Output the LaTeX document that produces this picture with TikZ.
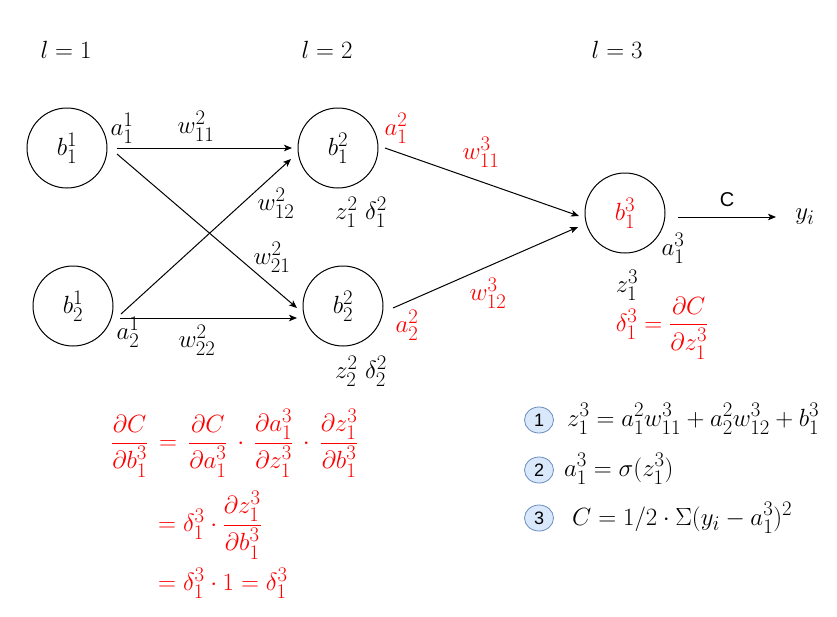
\documentclass[tikz,border=0pt]{standalone}
\usepackage{amsmath}
\usepackage{fontspec}
\newfontfamily\helv{Liberation Sans}
\usetikzlibrary{arrows.meta,shapes.geometric}
\definecolor{myred}{HTML}{FF0000}
\definecolor{numfill}{HTML}{DAE8FC}
\definecolor{numdraw}{HTML}{6C8EBF}
\tikzset{
  base/.style={font=\fontsize{24.88}{28}\selectfont, inner sep=0pt},
  neuron/.style={base, circle, draw, line width=1pt, minimum size=80pt},
  lbl/.style={base},
  rlbl/.style={base, text=myred},
  conn/.style={line width=1pt, -{Stealth[length=8pt,width=6.5pt,inset=2pt]}},
  numc/.style={ellipse, draw=numdraw, fill=numfill, line width=0.8pt, minimum width=29pt, minimum height=26pt, inner sep=0pt, font=\fontsize{18}{20}\selectfont\helv},
}
\begin{document}
\begin{tikzpicture}[x=1pt,y=-1pt]
\useasboundingbox (0,0) rectangle (837,616);
% layer labels
\node[lbl] (l1) at (66,50) {$l=1$};
\node[lbl] (l2) at (327,50) {$l=2$};
\node[lbl] (l3) at (617,50) {$l=3$};
% neurons
\node[neuron] (b11) at (67,148) {$b^1_1$};
\node[neuron] (b21) at (73,306) {$b^1_2$};
\node[neuron] (b12) at (338,148) {$b^2_1$};
\node[neuron] (b22) at (343,306) {$b^2_2$};
\node[neuron, text=myred] (b13) at (625,213) {$b^3_1$};
% connector end points
\coordinate (s11a) at (117,148);
\coordinate (s11b) at (117,154);
\coordinate (s21a) at (121,314);
\coordinate (s21b) at (120,318);
\coordinate (e12a) at (292,148);
\coordinate (e12b) at (291,159);
\coordinate (e22a) at (297,308);
\coordinate (e22b) at (297,318);
\coordinate (s12) at (385,148);
\coordinate (s22) at (393,308);
\coordinate (e13a) at (579,216);
\coordinate (e13b) at (578,227);
\coordinate (s13) at (678,217);
\coordinate (yend) at (776,217);
% connectors
\draw[conn] (s11a) -- (e12a);
\draw[conn] (s11b) -- (e22a);
\draw[conn] (s21a) -- (e12b);
\draw[conn] (s21b) -- (e22b);
\draw[conn] (s12) -- (e13a);
\draw[conn] (s22) -- (e13b);
\draw[conn] (s13) -- (yend);
% labels
\node[lbl] (a11) at (122,128) {$a^1_1$};
\node[lbl] (w211) at (196,126) {$w^2_{11}$};
\node[lbl] (w212) at (276,203) {$w^2_{12}$};
\node[lbl] (w221) at (272,257) {$w^2_{21}$};
\node[lbl] (a21) at (128,332) {$a^1_2$};
\node[lbl] (w222) at (197,340) {$w^2_{22}$};
\node[lbl] (zd1) at (361,212) {$z^2_1\ \delta^2_1$};
\node[lbl] (zd2) at (361,371) {$z^2_2\ \delta^2_2$};
\node[rlbl] (a12) at (396,128) {$a^2_1$};
\node[rlbl] (a22) at (407,325) {$a^2_2$};
\node[rlbl] (w311) at (481,152) {$w^3_{11}$};
\node[rlbl] (w312) at (488,293) {$w^3_{12}$};
\node[inner sep=0pt, font=\fontsize{20}{22}\selectfont\helv] (C) at (727,200) {C};
\node[lbl] (yi) at (805,217) {$y_i$};
\node[lbl] (a13) at (673,248) {$a^3_1$};
\node[lbl] (z13) at (627,285) {$z^3_1$};
\node[rlbl] (d13) at (662,328) {$\delta^3_1=\dfrac{\partial C}{\partial z^3_1}$};
% derivation
\node[rlbl, anchor=west] (eq1) at (111,443) {$\dfrac{\partial C}{\partial b^3_1}\,=\,\dfrac{\partial C}{\partial a^3_1}\,\cdot\,\dfrac{\partial a^3_1}{\partial z^3_1}\,\cdot\,\dfrac{\partial z^3_1}{\partial b^3_1}$};
\node[rlbl, anchor=west] (eq2) at (158,525) {$=\delta^3_1\cdot\dfrac{\partial z^3_1}{\partial b^3_1}$};
\node[rlbl, anchor=west] (eq3) at (158,583) {$=\delta^3_1\cdot 1=\delta^3_1$};
% numbered equations
\node[numc] (n1) at (539,420) {1};
\node[numc] (n2) at (539,470) {2};
\node[numc] (n3) at (539,518) {3};
\node[lbl, anchor=base west] (f1) at (567,426) {$z^3_1=a^2_1w^3_{11}+a^2_2w^3_{12}+b^3_1$};
\node[lbl, anchor=base west] (f2) at (564,476) {$a^3_1=\sigma(z^3_1)$};
\node[lbl, anchor=base west] (f3) at (572,525) {$C=1/2\cdot\Sigma(y_i-a^3_1)^2$};
\end{tikzpicture}
\end{document}
